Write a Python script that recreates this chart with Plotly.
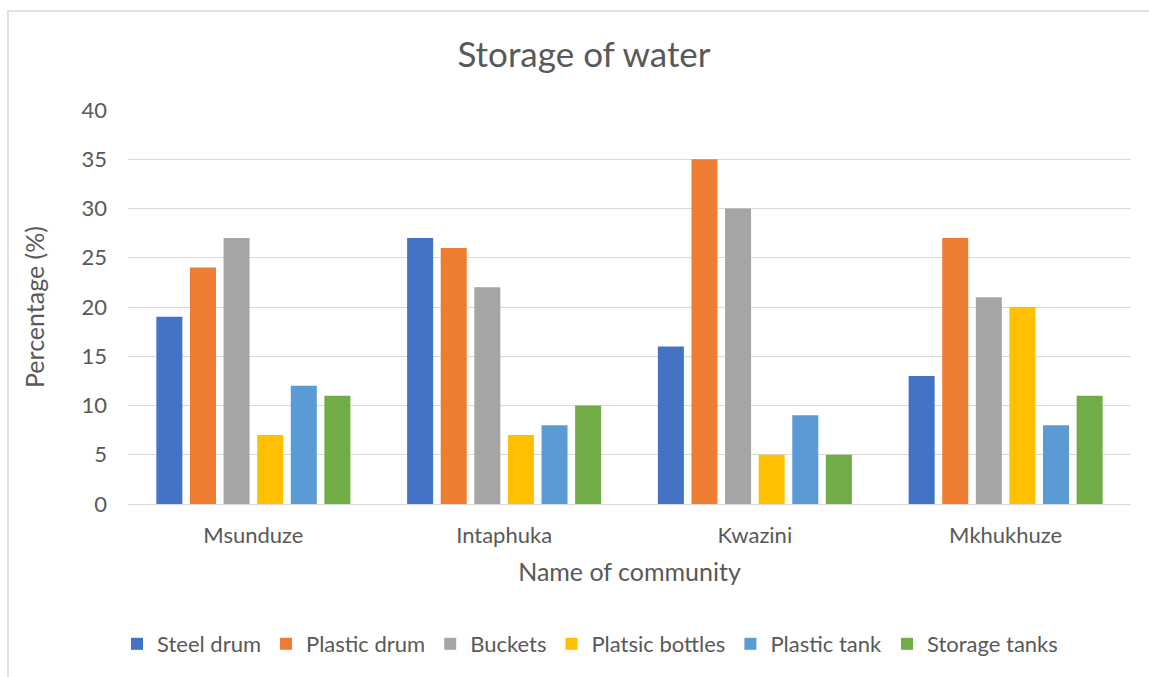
import plotly.graph_objects as go

communities = ["Msunduze", "Intaphuka", "Kwazini", "Mkhukhuze"]
series_names = ["Steel drum", "Plastic drum", "Buckets", "Platsic bottles", "Plastic tank", "Storage tanks"]
steel_drum = [19, 27, 16, 13]
plastic_drum = [24, 26, 35, 27]
buckets = [27, 22, 30, 21]
platsic_bottles = [7, 7, 5, 20]
plastic_tank = [12, 8, 9, 8]
storage_tanks = [11, 10, 5, 11]
y_ticks = [0, 5, 10, 15, 20, 25, 30, 35, 40]

series_values = [steel_drum, plastic_drum, buckets, platsic_bottles, plastic_tank, storage_tanks]
colors = ["#4472C4", "#ED7D31", "#A5A5A5", "#FFC000", "#5B9BD5", "#70AD47"]

FONT = "Lato"
W, H = 1149, 677
ml, mr, mt, mb = 128, 18, 110, 173
pw, ph = W - ml - mr, H - mt - mb

fig = go.Figure()
for name, vals, col in zip(series_names, series_values, colors):
    fig.add_trace(go.Bar(x=communities, y=vals, name=name, marker=dict(color=col, line=dict(width=0))))

def px_x(px):
    return (px - ml) / pw

def px_y(py):
    return (H - mb - py) / ph

fig.update_layout(
    width=W, height=H,
    margin=dict(l=ml, r=mr, t=mt, b=mb, autoexpand=False),
    paper_bgcolor="white", plot_bgcolor="white",
    barmode="group", bargap=0.196, bargroupgap=0.226,
    font=dict(family=FONT, color="#595959", size=22),
    title=dict(text="Storage of water", x=px_x(584), xref="paper", xanchor="center",
               y=1 - 55 / H, yanchor="middle", font=dict(size=35, color="#595959", family=FONT)),
    xaxis=dict(showgrid=False, showline=False, ticks="", tickfont=dict(size=22),
               ticklabelstandoff=16,
               title=dict(text="Name of community", font=dict(size=25), standoff=16),
               automargin=False),
    yaxis=dict(range=[0, 40], tickvals=y_ticks, showgrid=True, gridcolor="#D9D9D9", gridwidth=1,
               zeroline=True, zerolinecolor="#D9D9D9", zerolinewidth=1, showline=False,
               ticks="", tickfont=dict(size=22), ticklabelstandoff=20,
               title=dict(text="Percentage (%)", font=dict(size=25), standoff=29),
               automargin=False),
    legend=dict(orientation="h", x=px_x(590), xanchor="center", y=px_y(644), yanchor="middle",
                font=dict(size=22), itemwidth=30, traceorder="normal"),
    showlegend=True,
)

fig.add_shape(type="rect", xref="paper", yref="paper",
              x0=px_x(8), x1=px_x(1160), y0=px_y(700), y1=px_y(11),
              line=dict(color="#D9D9D9", width=1.5), fillcolor="rgba(0,0,0,0)", layer="below")

fig.write_html("out.html")
